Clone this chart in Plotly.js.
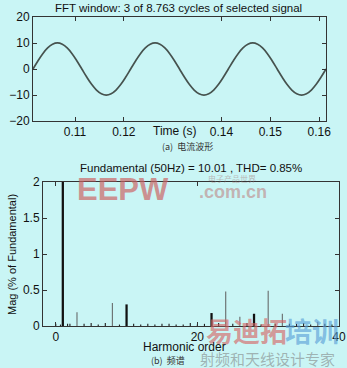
<!DOCTYPE html>
<html><head><meta charset="utf-8">
<script src="https://cdn.plot.ly/plotly-3.0.1.min.js"></script>
<style>html,body{margin:0;padding:0;background:#c9f5f5;}#chart{width:347px;height:368px;}</style>
</head><body><div id="chart"></div>
<script>
// ---- Data: current waveform ----
const timeS = [0.1014,0.1024,0.1034,0.1044,0.1054,0.1064,0.1074,0.1084,0.1094,0.1104,
0.1114,0.1124,0.1134,0.1144,0.1154,0.1164,0.1174,0.1184,0.1194,0.1204,
0.1214,0.1224,0.1234,0.1244,0.1254,0.1264,0.1274,0.1284,0.1294,0.1304,
0.1314,0.1324,0.1334,0.1344,0.1354,0.1364,0.1374,0.1384,0.1394,0.1404,
0.1414,0.1424,0.1434,0.1444,0.1454,0.1464,0.1474,0.1484,0.1494,0.1504,
0.1514,0.1524,0.1534,0.1544,0.1554,0.1564,0.1574,0.1584,0.1594,0.1604,0.1614];
const currentA = [0,3.09,5.88,8.09,9.51,10.01,9.51,8.09,5.88,3.09,
0,-3.09,-5.88,-8.09,-9.51,-10.01,-9.51,-8.09,-5.88,-3.09,
0,3.09,5.88,8.09,9.51,10.01,9.51,8.09,5.88,3.09,
0,-3.09,-5.88,-8.09,-9.51,-10.01,-9.51,-8.09,-5.88,-3.09,
0,3.09,5.88,8.09,9.51,10.01,9.51,8.09,5.88,3.09,
0,-3.09,-5.88,-8.09,-9.51,-10.01,-9.51,-8.09,-5.88,-3.09,0];
const timeTicks = [0.11,0.12,0.14,0.15,0.16];
const currentTicks = [-20,-10,0,10,20];

// ---- Data: harmonic spectrum (% of fundamental) ----
const majorHarm = [1,10,22,28];
const majorMag  = [100,0.30,0.18,0.17];
const minorHarm = [3,8,24,26,30,32,37];
const minorMag  = [0.19,0.32,0.48,0.13,0.49,0.17,0.06];
const smallHarm = [0,0.67,1.67,2,4,5,6,7,9,11,12,13,14,15,16,17,18,19,20,21,23,25,27,29,31,33,34,35,36,38,39];
const smallMag  = [0.03,0.02,0.03,0.03,0.03,0.04,0.02,0.04,0.02,0.03,0.02,0.03,0.02,0.03,0.03,0.02,0.02,0.04,0.02,0.03,0.04,0.03,0.04,0.02,0.03,0.03,0.03,0.04,0.02,0.03,0.02];
const harmTicks = [0,20,40];
const magTicks = [0,0.5,1,1.5,2];

const W=347,H=368;
const px=x=>x/W, py=y=>1-y/H;
const bg='#c9f5f5', ax='#333';
const F='"Liberation Sans", Arial, sans-serif';
const CJK='"Noto Sans CJK SC", sans-serif';

const traces = [
  {x:timeS,y:currentA,type:'scatter',mode:'lines',line:{color:'#46524e',width:1.7,shape:'spline'},xaxis:'x',yaxis:'y',hoverinfo:'skip'},
  {x:majorHarm,y:majorMag,type:'bar',width:0.32,marker:{color:'#111'},xaxis:'x2',yaxis:'y2'},
  {x:minorHarm,y:minorMag,type:'bar',width:0.16,marker:{color:'#6a6f6f'},xaxis:'x2',yaxis:'y2'},
  {x:smallHarm,y:smallMag,type:'bar',width:0.16,marker:{color:'#222'},xaxis:'x2',yaxis:'y2'}
];

const axBase = {showgrid:false,zeroline:false,showline:true,mirror:'ticks',linecolor:ax,linewidth:1,
  ticks:'inside',ticklen:4,tickcolor:ax,tickfont:{family:F,size:12,color:'#111'}};

const layout = {
  width:W,height:H,margin:{l:0,r:0,t:0,b:0},paper_bgcolor:bg,plot_bgcolor:bg,showlegend:false,barmode:'overlay',
  xaxis:Object.assign({},axBase,{domain:[px(33),px(326)],range:[0.1014,0.1614],tickvals:timeTicks,ticktext:timeTicks.map(String),anchor:'y'}),
  yaxis:Object.assign({},axBase,{domain:[py(121),py(17)],range:[-20,20],tickvals:currentTicks,anchor:'x'}),
  xaxis2:Object.assign({},axBase,{domain:[px(43),px(339)],range:[-1.8,40],tickvals:harmTicks,anchor:'y2'}),
  yaxis2:Object.assign({},axBase,{domain:[py(326),py(182)],range:[0,2],tickvals:magTicks,ticktext:['0','0.5','1','1.5','2'],anchor:'x2'}),
  annotations:[
    {xref:'paper',yref:'paper',x:px(178),y:py(8),text:'FFT window: 3 of 8.763 cycles of selected signal',showarrow:false,font:{family:F,size:11.5,color:'#111'},xanchor:'center',yanchor:'middle'},
    {xref:'x',yref:'paper',x:0.1305,y:py(131),text:'Time (s)',showarrow:false,font:{family:F,size:12,color:'#111'},xanchor:'center',yanchor:'middle'},
    {xref:'paper',yref:'paper',x:px(188),y:py(146),text:'(a)  电流波形',showarrow:false,font:{family:CJK,size:9,color:'#333'},xanchor:'center',yanchor:'middle'},
    {xref:'paper',yref:'paper',x:px(75),y:py(189),text:'<b>EEPW</b>',showarrow:false,font:{family:F,size:31,color:'rgba(205,100,100,0.7)'},xanchor:'left',yanchor:'middle'},
    {xref:'paper',yref:'paper',x:px(233),y:py(192),text:'<b>.com.cn</b>',showarrow:false,font:{family:F,size:18,color:'rgba(190,140,140,0.65)'},xanchor:'center',yanchor:'middle'},
    {xref:'paper',yref:'paper',x:px(232),y:py(178),text:'电子产品世界',showarrow:false,font:{family:CJK,size:8,color:'rgba(170,130,130,0.55)'},xanchor:'center',yanchor:'middle'},
    {xref:'paper',yref:'paper',x:px(191),y:py(168),text:'Fundamental (50Hz) = 10.01 , THD= 0.85%',showarrow:false,font:{family:F,size:11.5,color:'#111'},xanchor:'center',yanchor:'middle'},
    {xref:'paper',yref:'paper',x:px(12),y:py(255),text:'Mag (% of Fundamental)',textangle:-90,showarrow:false,font:{family:F,size:11,color:'#111'},xanchor:'center',yanchor:'middle'},
    {xref:'paper',yref:'paper',x:px(246),y:py(330),text:'<b>易迪拓</b>',showarrow:false,font:{family:CJK,size:27,color:'rgba(215,100,100,0.65)'},xanchor:'center',yanchor:'middle'},
    {xref:'paper',yref:'paper',x:px(312),y:py(330),text:'<b>培训</b>',showarrow:false,font:{family:CJK,size:27,color:'rgba(90,160,215,0.65)'},xanchor:'center',yanchor:'middle'},
    {xref:'paper',yref:'paper',x:px(184),y:py(347),text:'Harmonic order',showarrow:false,font:{family:F,size:12,color:'#111'},xanchor:'center',yanchor:'middle'},
    {xref:'paper',yref:'paper',x:px(267),y:py(358),text:'射频和天线设计专家',showarrow:false,font:{family:CJK,size:15,color:'rgba(140,150,150,0.7)'},xanchor:'center',yanchor:'middle'},
    {xref:'paper',yref:'paper',x:px(168),y:py(360),text:'(b)  频谱',showarrow:false,font:{family:CJK,size:9,color:'#333'},xanchor:'center',yanchor:'middle'}
  ]
};
Plotly.newPlot('chart',traces,layout,{displayModeBar:false,staticPlot:true});
</script></body></html>
